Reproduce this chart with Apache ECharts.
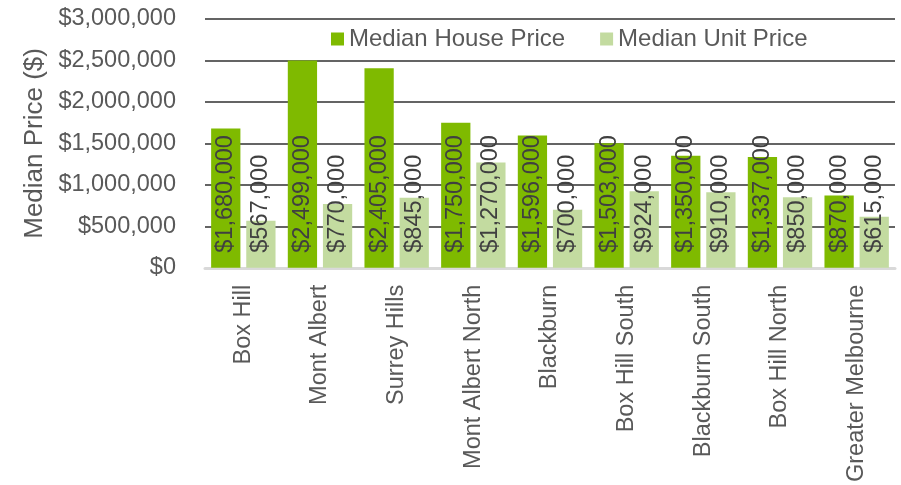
<!DOCTYPE html>
<html>
<head>
<meta charset="utf-8">
<script src="https://cdn.jsdelivr.net/npm/echarts@6/dist/echarts.min.js"></script>
<style>
html,body{margin:0;padding:0;background:#fff;}
#c{width:901px;height:485px;}
</style>
</head>
<body>
<div id="c"></div>
<script>
const categories = ["Box Hill","Mont Albert","Surrey Hills","Mont Albert North","Blackburn","Box Hill South","Blackburn South","Box Hill North","Greater Melbourne"];
const houseSeriesName = "Median House Price";
const unitSeriesName = "Median Unit Price";
const housePrices = [1680000,2499000,2405000,1750000,1596000,1503000,1350000,1337000,870000];
const unitPrices = [567000,770000,845000,1270000,700000,924000,910000,850000,615000];
const yTicks = {min:0, max:3000000, interval:500000};
const yAxisTitle = "Median Price ($)";

const FONT = '"Liberation Sans", Arial, sans-serif';
function money(v){ return '$' + Number(v).toLocaleString('en-US'); }

const labelCfg = {
  show:true, position:'insideBottom', rotate:90, align:'left', verticalAlign:'middle',
  distance:15, color:'#404040', fontSize:23.5, fontFamily:FONT,
  formatter:p=>money(p.value)
};

const chart = echarts.init(document.getElementById('c'), null, {renderer:'canvas'});
chart.setOption({
  animation:false,
  textStyle:{fontFamily:FONT},
  grid:{left:205, right:6, top:19, bottom:214, containLabel:false},
  legend:{
    left:326, top:22, itemWidth:13, itemHeight:13, itemGap:35,
    icon:'rect',
    textStyle:{fontSize:24, color:'#595959', fontFamily:FONT},
    data:[houseSeriesName, unitSeriesName]
  },
  xAxis:{
    type:'category', data:categories,
    axisLine:{lineStyle:{color:'#d9d9d9', width:3}},
    axisTick:{show:false},
    axisLabel:{rotate:90, margin:17, color:'#595959', fontSize:23.5, fontFamily:FONT, interval:0}
  },
  yAxis:{
    type:'value', min:yTicks.min, max:yTicks.max, interval:yTicks.interval,
    name:yAxisTitle, nameLocation:'middle', nameGap:153,
    nameTextStyle:{fontSize:26, color:'#595959', fontFamily:FONT},
    axisLine:{show:false}, axisTick:{show:false},
    axisLabel:{margin:29, color:'#595959', fontSize:23.5, fontFamily:FONT, formatter:v=>money(v)},
    splitLine:{lineStyle:{color:'#646464', width:2}}
  },
  series:[
    {name:houseSeriesName, type:'bar', data:housePrices, itemStyle:{color:'#7fba00'},
     barGap:'20%', barCategoryGap:'16%', label:labelCfg},
    {name:unitSeriesName, type:'bar', data:unitPrices, itemStyle:{color:'#c3dba0'},
     barGap:'20%', barCategoryGap:'16%', label:labelCfg}
  ]
});
</script>
</body>
</html>
